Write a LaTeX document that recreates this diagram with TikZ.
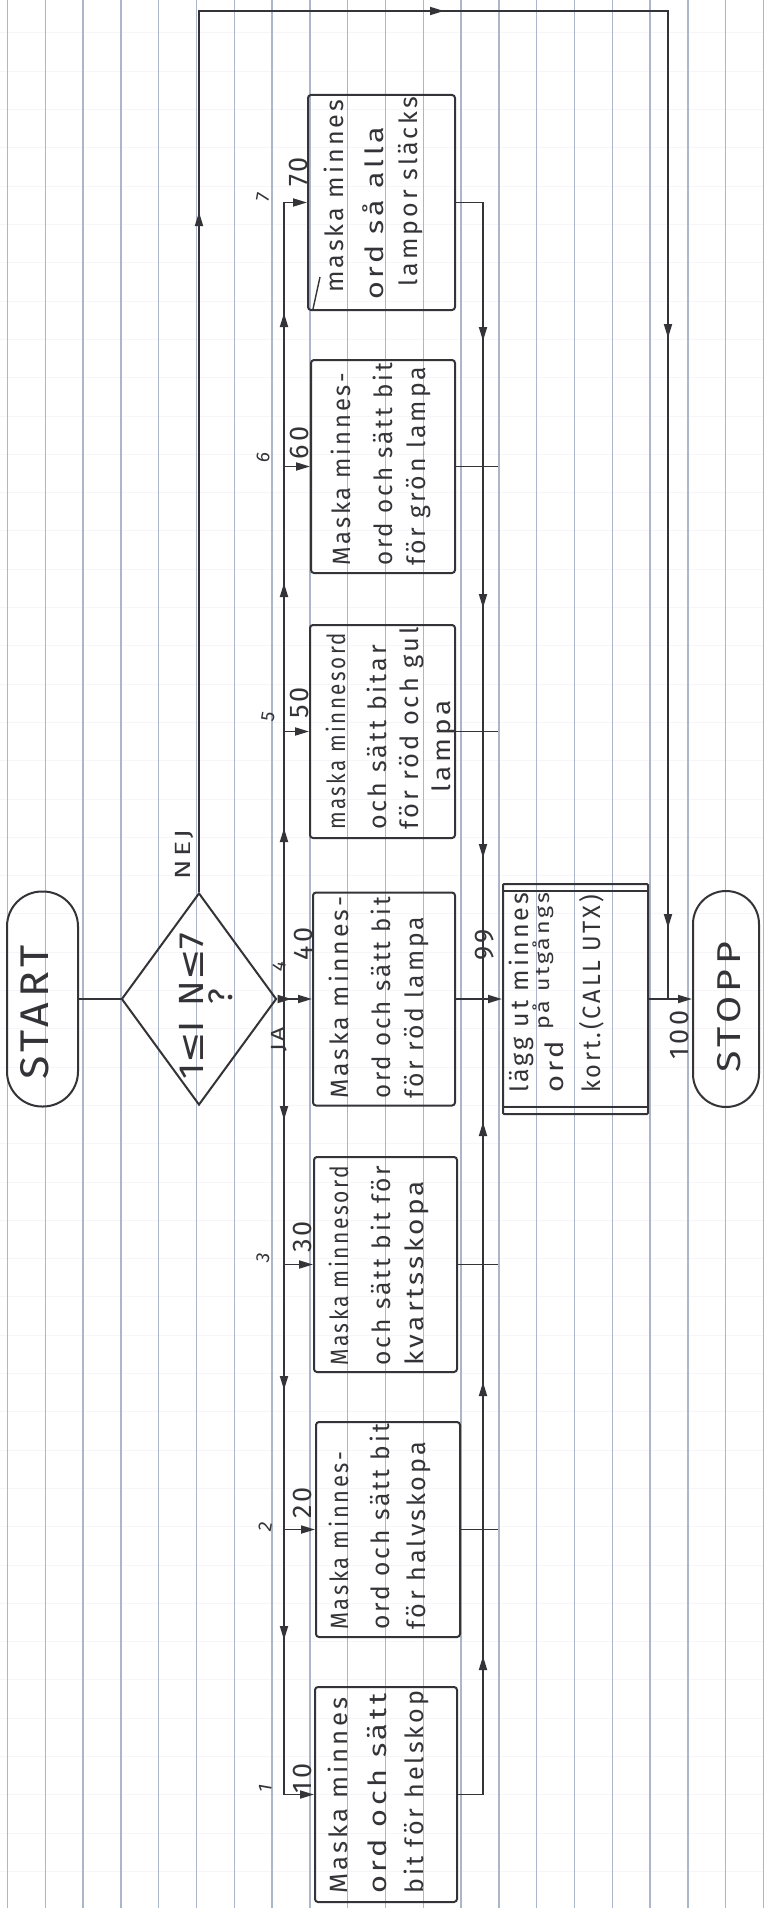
\documentclass[tikz,border=0pt]{standalone}
\usepackage{fontspec}
\usepackage{graphicx}
\setmainfont{Fira Sans}[LetterSpace=12]
\newfontfamily\symfont{DejaVu Sans}
\usetikzlibrary{arrows.meta,shapes.geometric,decorations.markings}
\definecolor{ink}{RGB}{52,52,56}
\definecolor{rulecol}{RGB}{172,182,202}
\definecolor{faintcol}{RGB}{246,246,248}
% stretch one handwritten line to a given length, keeping its height
\newcommand\fitto[2]{\resizebox{#1}{\height}{#2}}

\tikzset{
  >={Triangle[length=14pt,width=8pt]},
  ln/.style={draw=ink, line width=1.8pt},
  tipsat/.style={postaction={decorate, decoration={markings, #1}}},
  procbox/.style={draw=ink, line width=2pt, rounded corners=3pt, inner sep=0pt},
  terminal/.style={draw=ink, line width=2pt, inner sep=0pt},
  cond/.style={draw=ink, line width=2pt, diamond, inner sep=0pt},
  txtline/.style={rotate=90, anchor=base west, inner sep=0pt, text=ink,
    font=\fontsize{25}{25}\selectfont},
  lab/.style={rotate=90, inner sep=0pt, text=ink, font=\fontsize{27}{27}\selectfont},
  casenum/.style={rotate=80, inner sep=0pt, text=ink, font=\fontsize{19}{19}\selectfont},
}

\begin{document}
\begin{tikzpicture}[x=1pt,y=-1pt]
% paper
\fill[white] (0,0) rectangle (763,1908);
\useasboundingbox (0,0) rectangle (763,1908);
\foreach \k in {0,...,48} \draw[faintcol, line width=1pt] (0,{33+38.3*\k}) -- (763,{33+38.3*\k});
\foreach \k in {0,...,20} \draw[rulecol, line width=1.5pt] ({7.5+37.8*\k},0) -- ({7.5+37.8*\k},1908);

% start, decision, stop
\node[terminal, minimum width=71pt, minimum height=215pt, rounded corners=35pt] (start) at (42.5,999) {};
\node[txtline, font=\fontsize{40}{40}\selectfont] (starttxt) at (48,1080) {\fitto{135pt}{START}};

\node[cond, minimum width=155pt, minimum height=212pt] (dia) at (199,999) {};
\node[txtline, font=\fontsize{35}{35}\selectfont] (diatxt) at (203,1080)
  {\fitto{147pt}{1{\symfont ≤}I N{\symfont ≤}7}};
\node[lab, font=\fontsize{34}{34}\selectfont] (diaq) at (221,997) {?};
\node[txtline, font=\fontsize{22}{22}\selectfont] (nej) at (190,880) {\fitto{50pt}{NEJ}};
\node[txtline, font=\fontsize{19}{19}\selectfont] (ja) at (284,1052) {\fitto{25pt}{JA}};

\node[terminal, minimum width=66pt, minimum height=216pt, rounded corners=33pt] (stopp) at (726,999) {};
\node[txtline, font=\fontsize{33}{33}\selectfont] (stopptxt) at (740,1073) {\fitto{131pt}{STOPP}};

% process boxes
\node[procbox, minimum width=142pt, minimum height=215pt] (b1) at (386,1794.5) {};
\node[procbox, minimum width=144pt, minimum height=215pt] (b2) at (388,1529.5) {};
\node[procbox, minimum width=143pt, minimum height=215pt] (b3) at (385.5,1264.5) {};
\node[procbox, minimum width=142pt, minimum height=213pt] (b4) at (384,999) {};
\node[procbox, minimum width=145pt, minimum height=213pt] (b5) at (382.5,731.5) {};
\node[procbox, minimum width=144pt, minimum height=213pt] (b6) at (383,466.5) {};
\node[procbox, minimum width=147pt, minimum height=215pt] (b7) at (381.5,202.5) {};
\node[procbox, minimum width=145pt, minimum height=230pt, rounded corners=1pt] (b99) at (575.5,999) {};
\draw[ln] ([yshift=-8pt]b99.north west) -- ([yshift=-8pt]b99.north east);
\draw[ln] ([yshift=8pt]b99.south west) -- ([yshift=8pt]b99.south east);
\draw[ln, line width=1.4pt] (313,309) -- (320,277);

% box texts
\node[txtline] (t1a) at (347,1894) {\fitto{196pt}{Maska minnes}};
\node[txtline] (t1b) at (386,1894) {\fitto{200pt}{ord och sätt}};
\node[txtline] (t1c) at (423,1894) {\fitto{203pt}{bit för helskop}};

\node[txtline] (t2a) at (348,1630) {\fitto{178pt}{Maska minnes-}};
\node[txtline] (t2b) at (389,1630) {\fitto{206pt}{ord och sätt bit}};
\node[txtline] (t2c) at (425,1630) {\fitto{188pt}{för halvskopa}};

\node[txtline] (t3a) at (348,1366) {\fitto{200pt}{Maska minnesord}};
\node[txtline] (t3b) at (390,1366) {\fitto{200pt}{och sätt bit för}};
\node[txtline] (t3c) at (423,1366) {\fitto{185pt}{kvartsskopa}};

\node[txtline] (t4a) at (348,1099) {\fitto{202pt}{Maska minnes-}};
\node[txtline] (t4b) at (390,1099) {\fitto{202pt}{ord och sätt bit}};
\node[txtline] (t4c) at (423,1099) {\fitto{182pt}{för röd lampa}};

\node[txtline] (t5a) at (345,830) {\fitto{197pt}{maska minnesord}};
\node[txtline] (t5b) at (386,830) {\fitto{185pt}{och sätt bitar}};
\node[txtline] (t5c) at (418,830) {\fitto{203pt}{för röd och gul}};
\node[txtline] (t5d) at (450,793) {\fitto{92pt}{lampa}};

\node[txtline] (t6a) at (350,566) {\fitto{193pt}{Maska minnes-}};
\node[txtline] (t6b) at (392,566) {\fitto{203pt}{ord och sätt bit}};
\node[txtline] (t6c) at (425,566) {\fitto{199pt}{för grön lampa}};

\node[txtline] (t7a) at (343,293) {\fitto{193pt}{maska minnes}};
\node[txtline] (t7b) at (383,300) {\fitto{173pt}{ord så alla}};
\node[txtline] (t7c) at (417,287) {\fitto{190pt}{lampor släcks}};

\node[txtline] (t99a) at (528,1093) {\fitto{200pt}{lägg ut minnes}};
\node[txtline] (t99b) at (563,1093) {\fitto{200pt}{ord \raisebox{14pt}{\fontsize{20}{20}\selectfont på utgångs}}};
\node[txtline] (t99c) at (600,1093) {\fitto{198pt}{kort.(CALL UTX)}};

% junction points of the branch lines
\coordinate (lj) at (284,999);
\coordinate (rj) at (483,999);
\coordinate (rx) at (498,999);
\coordinate (n1) at (199,11);
\coordinate (n2) at (668,11);

% connectors
\draw[ln] (start.east) -- (dia.west);
\draw[ln, tipsat={mark=at position 680pt with {\arrow{>}}, mark=at position 1126pt with {\arrow{>}},
  mark=at position 1677pt with {\arrow{>}}, mark=at position 2267pt with {\arrow{>}}}]
  (dia.north) -- (n1) -- (n2) -- (n2 |- stopp.west);
\draw[ln, ->, tipsat={mark=at position 14pt with {\arrow{>}}}] (dia.east) -- (b4.west);
\draw[ln, ->, tipsat={mark=at position 171pt with {\arrow{>}}, mark=at position 416pt with {\arrow{>}},
  mark=at position 686pt with {\arrow{>}}}] (lj) |- (b7.west);
\draw[ln, ->, tipsat={mark=at position 121pt with {\arrow{>}}, mark=at position 391pt with {\arrow{>}},
  mark=at position 641pt with {\arrow{>}}}] (lj) |- (b1.west);
\draw[ln, ->] (b2.west -| lj) -- (b2.west);
\draw[ln, ->] (b3.west -| lj) -- (b3.west);
\draw[ln, ->] (b5.west -| lj) -- (b5.west);
\draw[ln, ->] (b6.west -| lj) -- (b6.west);

\draw[ln, tipsat={mark=at position 163.5pt with {\arrow{>}}, mark=at position 437.5pt with {\arrow{>}},
  mark=at position 697.5pt with {\arrow{>}}}] (b1.east) -| (rj);
\draw[ln, tipsat={mark=at position 165.5pt with {\arrow{>}}, mark=at position 432.5pt with {\arrow{>}},
  mark=at position 682.5pt with {\arrow{>}}}] (b7.east) -| (rj);
\draw[ln] (b2.east) -- (b2.east -| rx);
\draw[ln] (b3.east) -- (b3.east -| rx);
\draw[ln] (b5.east) -- (b5.east -| rx);
\draw[ln] (b6.east) -- (b6.east -| rx);
\draw[ln, ->] (b4.east) -- (b99.west);
\draw[ln, ->] (b99.east) -- (stopp.west);

% branch and label numbers
\node[casenum] (c1) at (265,1788) {1};
\node[casenum] (c2) at (265,1527) {2};
\node[casenum] (c3) at (263,1258) {3};
\node[casenum] (c4) at (279,966) {4};
\node[casenum] (c5) at (268,717) {5};
\node[casenum] (c6) at (263,457) {6};
\node[casenum] (c7) at (263,197) {7};
\node[lab] (e10) at (302,1778) {10};
\node[lab] (e20) at (302,1503) {20};
\node[lab] (e30) at (302,1237) {30};
\node[lab] (e40) at (303,944) {40};
\node[lab] (e50) at (299,703) {50};
\node[lab] (e60) at (299,443) {60};
\node[lab] (e70) at (298,172) {70};
\node[lab] (e99) at (485,945) {99};
\node[lab] (e100) at (679,1035) {100};
\end{tikzpicture}
\end{document}
